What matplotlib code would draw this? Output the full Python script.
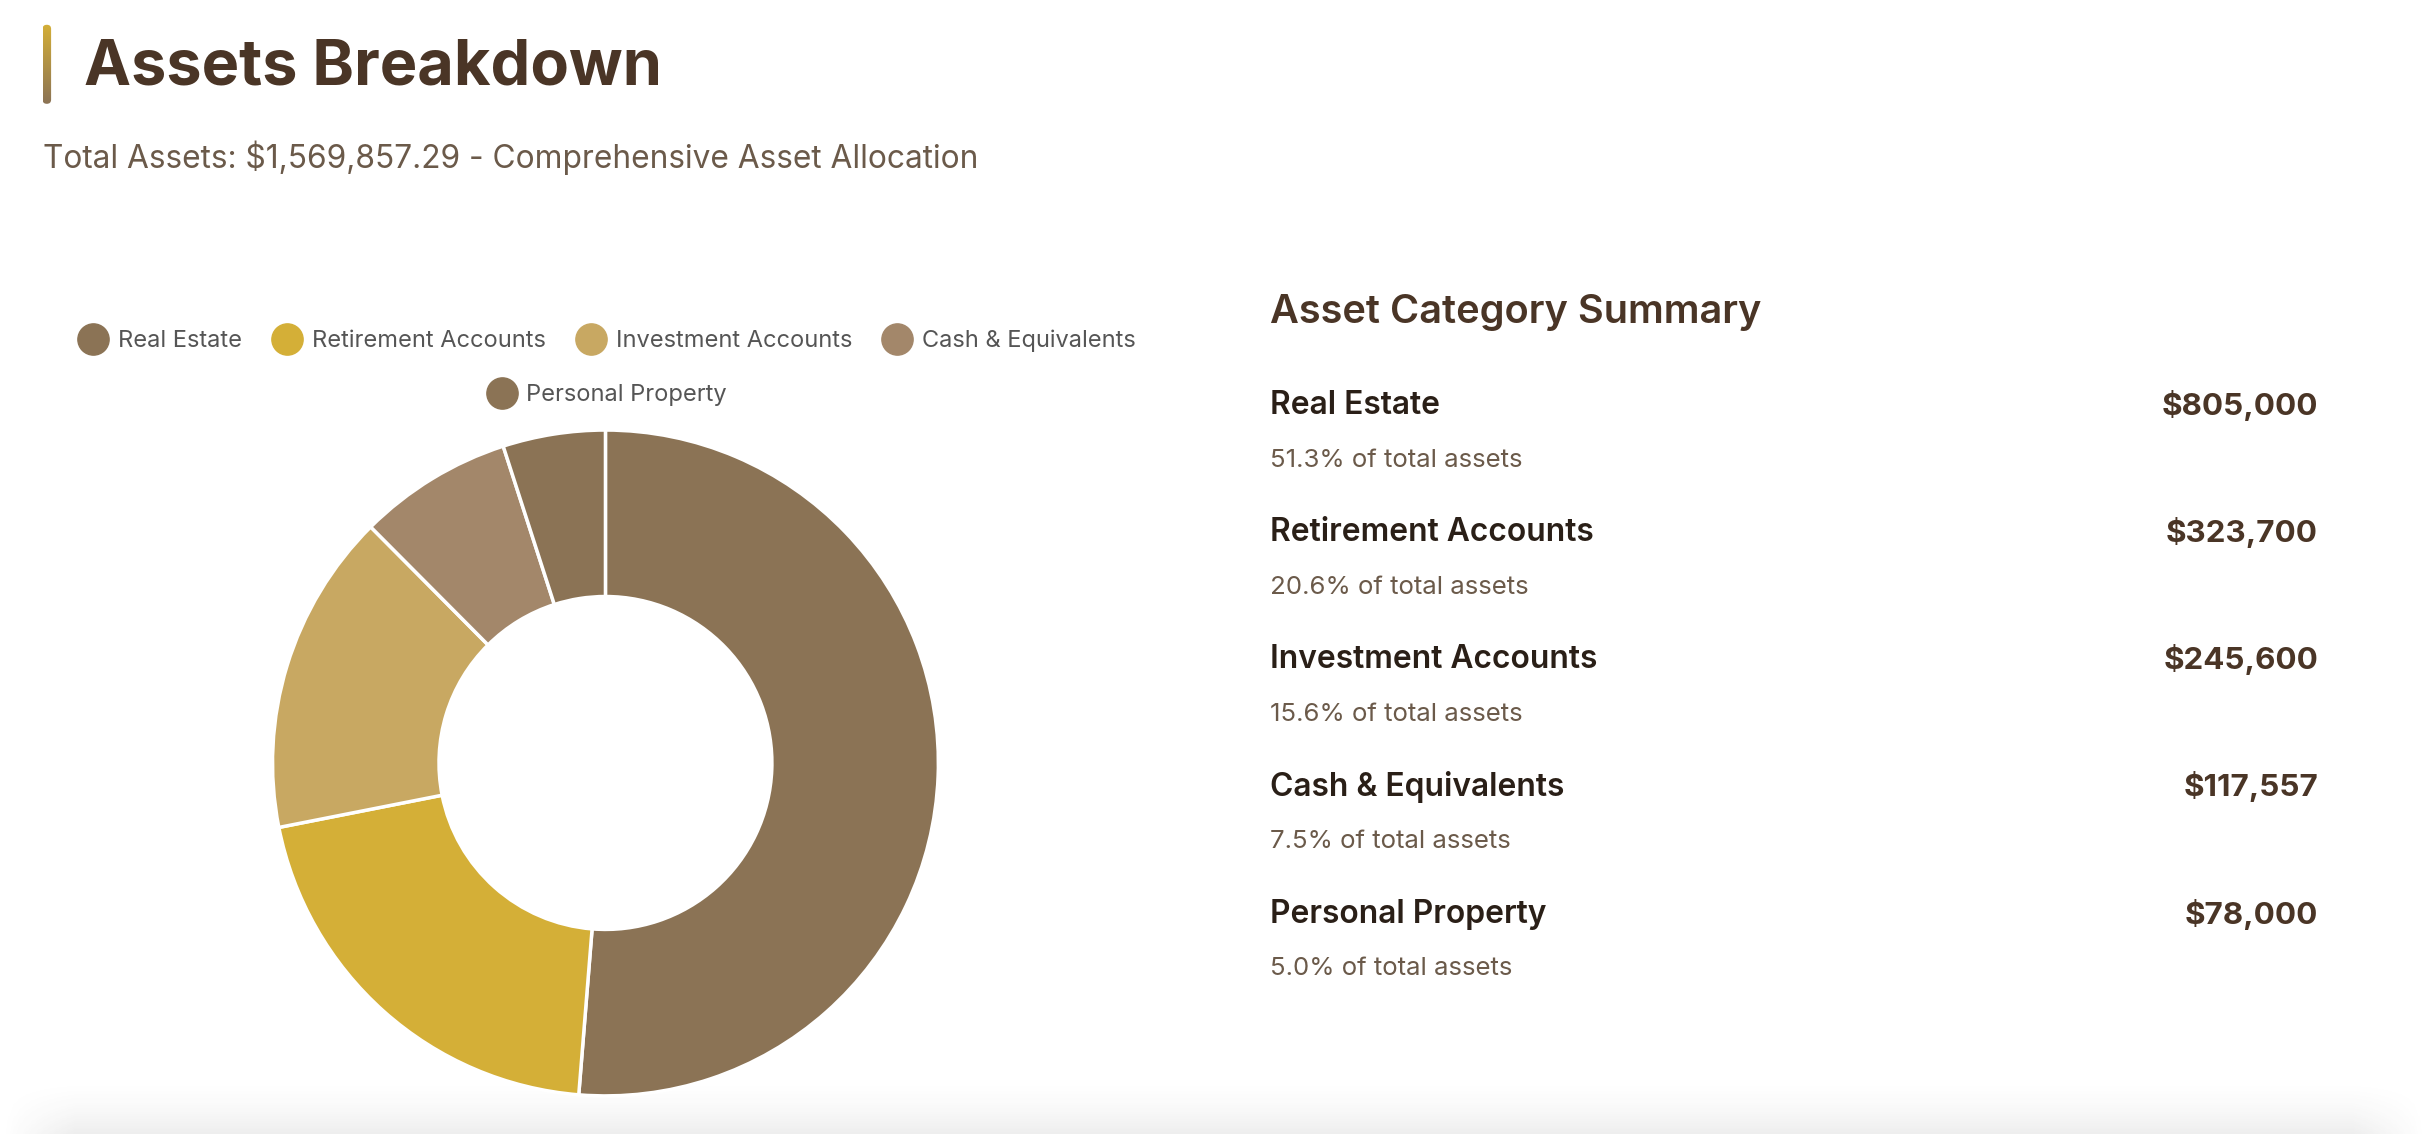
import matplotlib
matplotlib.use("Agg")
import matplotlib.pyplot as plt
import numpy as np
from matplotlib.lines import Line2D
from matplotlib.patches import FancyBboxPatch
from matplotlib.colors import LinearSegmentedColormap

plt.rcParams['font.family'] = ['Inter', 'DejaVu Sans']

# ---------------- data ----------------
categories = ["Real Estate", "Retirement Accounts", "Investment Accounts",
              "Cash & Equivalents", "Personal Property"]
values = [805000, 323700, 245600, 117557.29, 78000]
colors = ["#8B7355", "#D4AF37", "#C8A862", "#A3876A", "#8B7355"]
title = "Assets Breakdown"
subtitle = "Total Assets: $1,569,857.29 - Comprehensive Asset Allocation"
summary_title = "Asset Category Summary"

total = sum(values)

W, H = 2428, 1134
fig = plt.figure(figsize=(W / 100, H / 100), dpi=100)
fig.patch.set_facecolor("white")

# overlay axes in "display" units of the 1568x732 preview
ov = fig.add_axes([0, 0, 1, 1])
ov.set_xlim(0, 1568)
ov.set_ylim(732, 0)
ov.axis("off")

# gold accent bar with gradient
grad = np.linspace(0, 1, 256).reshape(-1, 1)
cmap = LinearSegmentedColormap.from_list("g", ["#D4AF37", "#8B7355"])
im = ov.imshow(grad, extent=[27.5, 33, 67, 16], cmap=cmap, aspect="auto", zorder=2)
clip = FancyBboxPatch((27.5, 16), 5.5, 51, boxstyle="round,pad=0,rounding_size=2.7",
                      transform=ov.transData, facecolor="none", edgecolor="none")
ov.add_patch(clip)
im.set_clip_path(clip)

ov.text(54, 44, title, fontsize=45.4, fontweight="bold", color="#4A3526",
        va="center", ha="left")
ov.text(28, 102, subtitle, fontsize=22.8, color="#6B5A4A", va="center", ha="left")

# summary panel
ov.text(820, 202, summary_title, fontsize=28.6, fontweight="semibold", color="#4A3526",
        va="center", ha="left")
row_y0, row_dy = 262, 82
for i, (cat, val) in enumerate(zip(categories, values)):
    y = row_y0 + i * row_dy
    ov.text(820, y, cat, fontsize=22.9, fontweight="semibold", color="#2A1F17",
            va="center", ha="left")
    ov.text(1497, y, f"${val:,.0f}", fontsize=22.6, fontweight="bold", color="#4A3526",
            va="center", ha="right")
    ov.text(820, y + 35, f"{val / total * 100:.1f}% of total assets", fontsize=18.6,
            color="#6B5A4A", va="center", ha="left")

# bottom shadow
sh_h = 38
yy = np.linspace(0, 1, 60).reshape(-1, 1)
xx = np.linspace(0, 1, 400).reshape(1, -1)
edge = np.clip(np.minimum(xx, 1 - xx) / 0.03, 0, 1)
alpha = (yy ** 1.8) * edge * 0.09
rgba = np.zeros((60, 400, 4))
rgba[..., :3] = 0.25
rgba[..., 3] = alpha
ov.imshow(rgba, extent=[0, 1568, 732, 732 - sh_h], aspect="auto", zorder=1)
ov.set_xlim(0, 1568)
ov.set_ylim(732, 0)

# donut
cx, cy, r = 391, 492.5, 215
pax = fig.add_axes([(cx - r) / 1568, 1 - (cy + r) / 732, 2 * r / 1568, 2 * r / 732])
pax.pie(values, colors=colors, startangle=90, counterclock=False, radius=1,
        wedgeprops=dict(width=0.5, edgecolor="white", linewidth=2.5))
pax.set_xlim(-1, 1)
pax.set_ylim(-1, 1)
pax.set_aspect("equal")
pax.axis("off")

# legend (two centered rows)
handles = [Line2D([], [], marker="o", linestyle="", markersize=22.5,
                  markerfacecolor=c, markeredgecolor=c) for c in colors]
leg_kw = dict(frameon=False, fontsize=17.0, handlelength=1.25, handletextpad=0.42,
              columnspacing=1.3, borderpad=0, borderaxespad=0,
              labelcolor="#555555", loc="center")
leg1 = fig.legend(handles[:4], categories[:4], ncol=4,
                  bbox_to_anchor=(392 / 1568, 1 - 220 / 732), **leg_kw)
leg2 = fig.legend(handles[4:], categories[4:], ncol=1,
                  bbox_to_anchor=(392 / 1568, 1 - 255 / 732), **leg_kw)

fig.savefig("out.png", dpi=100, facecolor="white")
